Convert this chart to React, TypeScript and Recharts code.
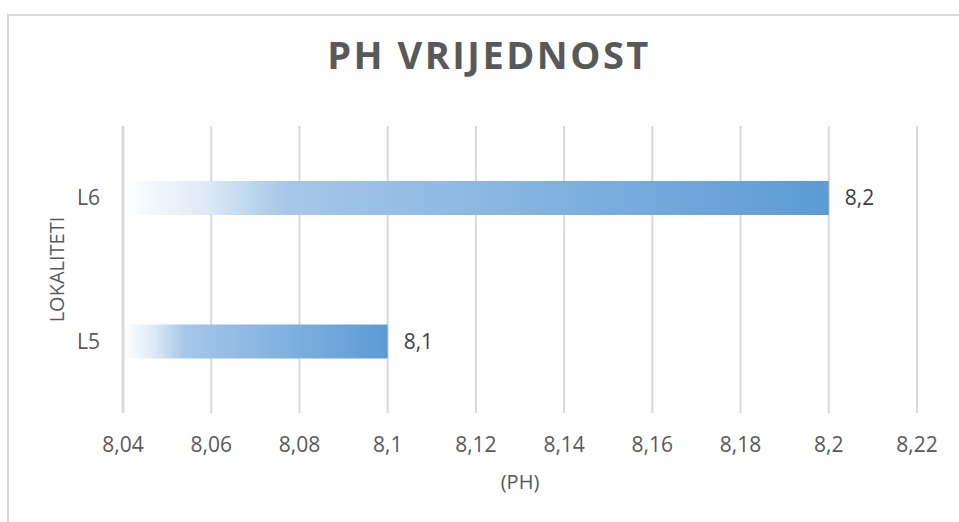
import React from 'react';
import { BarChart, Bar, XAxis, YAxis, CartesianGrid, LabelList } from 'recharts';

const categories = ['L6', 'L5'];
const phValues = [8.2, 8.1];
const xTicks = [8.04, 8.06, 8.08, 8.1, 8.12, 8.14, 8.16, 8.18, 8.2, 8.22];
const titleText = 'PH VRIJEDNOST';
const xAxisTitle = '(PH)';
const yAxisTitle = 'LOKALITETI';

const data = categories.map((name, i) => ({ name, value: phValues[i] }));

const FONT = '"Open Sans", sans-serif';
const fmt = (v: number) => String(v).replace('.', ',');

export default function App() {
  return (
    <div style={{ position: 'fixed', left: 0, top: 0, width: 959, height: 522, overflow: 'hidden', background: '#fff' }}>
      <div
        style={{
          position: 'absolute',
          left: 7,
          top: 14,
          width: 1100,
          height: 700,
          borderLeft: '2px solid #d9d9d9',
          borderTop: '2px solid #d9d9d9',
        }}
      />
      <svg width={959} height={522} style={{ position: 'absolute', left: 0, top: 0 }}>
        <text
          x={489}
          y={69}
          textAnchor="middle"
          fontFamily={FONT}
          fontWeight={700}
          fontSize={38}
          letterSpacing={2.5}
          fill="#595959"
        >
          {titleText}
        </text>
      </svg>
      <div style={{ position: 'absolute', left: 0, top: 0 }}>
        <BarChart
          width={959}
          height={522}
          data={data}
          layout="vertical"
          margin={{ top: 126, right: 42, bottom: 0, left: 0 }}
        >
          <defs>
            <linearGradient id="barGrad" x1="0" y1="0" x2="1" y2="0">
              <stop offset="0" stopColor="#ffffff" />
              <stop offset="0.12" stopColor="#dce9f6" />
              <stop offset="0.23" stopColor="#a6c7e9" />
              <stop offset="1" stopColor="#5b9bd5" />
            </linearGradient>
          </defs>
          <CartesianGrid horizontal={false} vertical={true} stroke="#d9d9d9" strokeWidth={2} />
          <XAxis
            type="number"
            domain={[8.04, 8.22]}
            ticks={xTicks}
            tickFormatter={fmt}
            axisLine={false}
            tickLine={false}
            tickSize={0}
            tickMargin={24}
            height={109}
            tick={{ fill: '#595959', fontSize: 21, fontFamily: FONT }}
            interval={0}
            label={{
              value: xAxisTitle,
              content: (props: any) => {
                const vb = props.viewBox;
                return (
                  <text
                    x={vb.x + vb.width / 2}
                    y={vb.y + 76}
                    textAnchor="middle"
                    fontFamily={FONT}
                    fontSize={20}
                    fill="#595959"
                  >
                    {xAxisTitle}
                  </text>
                );
              },
            }}
          />
          <YAxis
            type="category"
            dataKey="name"
            width={123}
            axisLine={{ stroke: '#d9d9d9', strokeWidth: 3 }}
            tickLine={false}
            tickSize={0}
            tickMargin={23}
            tick={{ fill: '#595959', fontSize: 21, fontFamily: FONT }}
            label={{
              value: yAxisTitle,
              content: (props: any) => {
                const vb = props.viewBox;
                const cx = vb.x + 56;
                const cy = vb.y + vb.height / 2;
                return (
                  <text
                    x={cx}
                    y={cy}
                    transform={`rotate(-90, ${cx}, ${cy})`}
                    textAnchor="middle"
                    dominantBaseline="central"
                    fontFamily={FONT}
                    fontSize={20}
                    fill="#595959"
                  >
                    {yAxisTitle}
                  </text>
                );
              },
            }}
          />
          <Bar dataKey="value" fill="url(#barGrad)" barSize={34} isAnimationActive={false}>
            <LabelList
              dataKey="value"
              position="right"
              offset={16}
              formatter={(v: any) => fmt(v)}
              fill="#404040"
              fontSize={21}
              fontFamily={FONT}
            />
          </Bar>
        </BarChart>
      </div>
    </div>
  );
}
